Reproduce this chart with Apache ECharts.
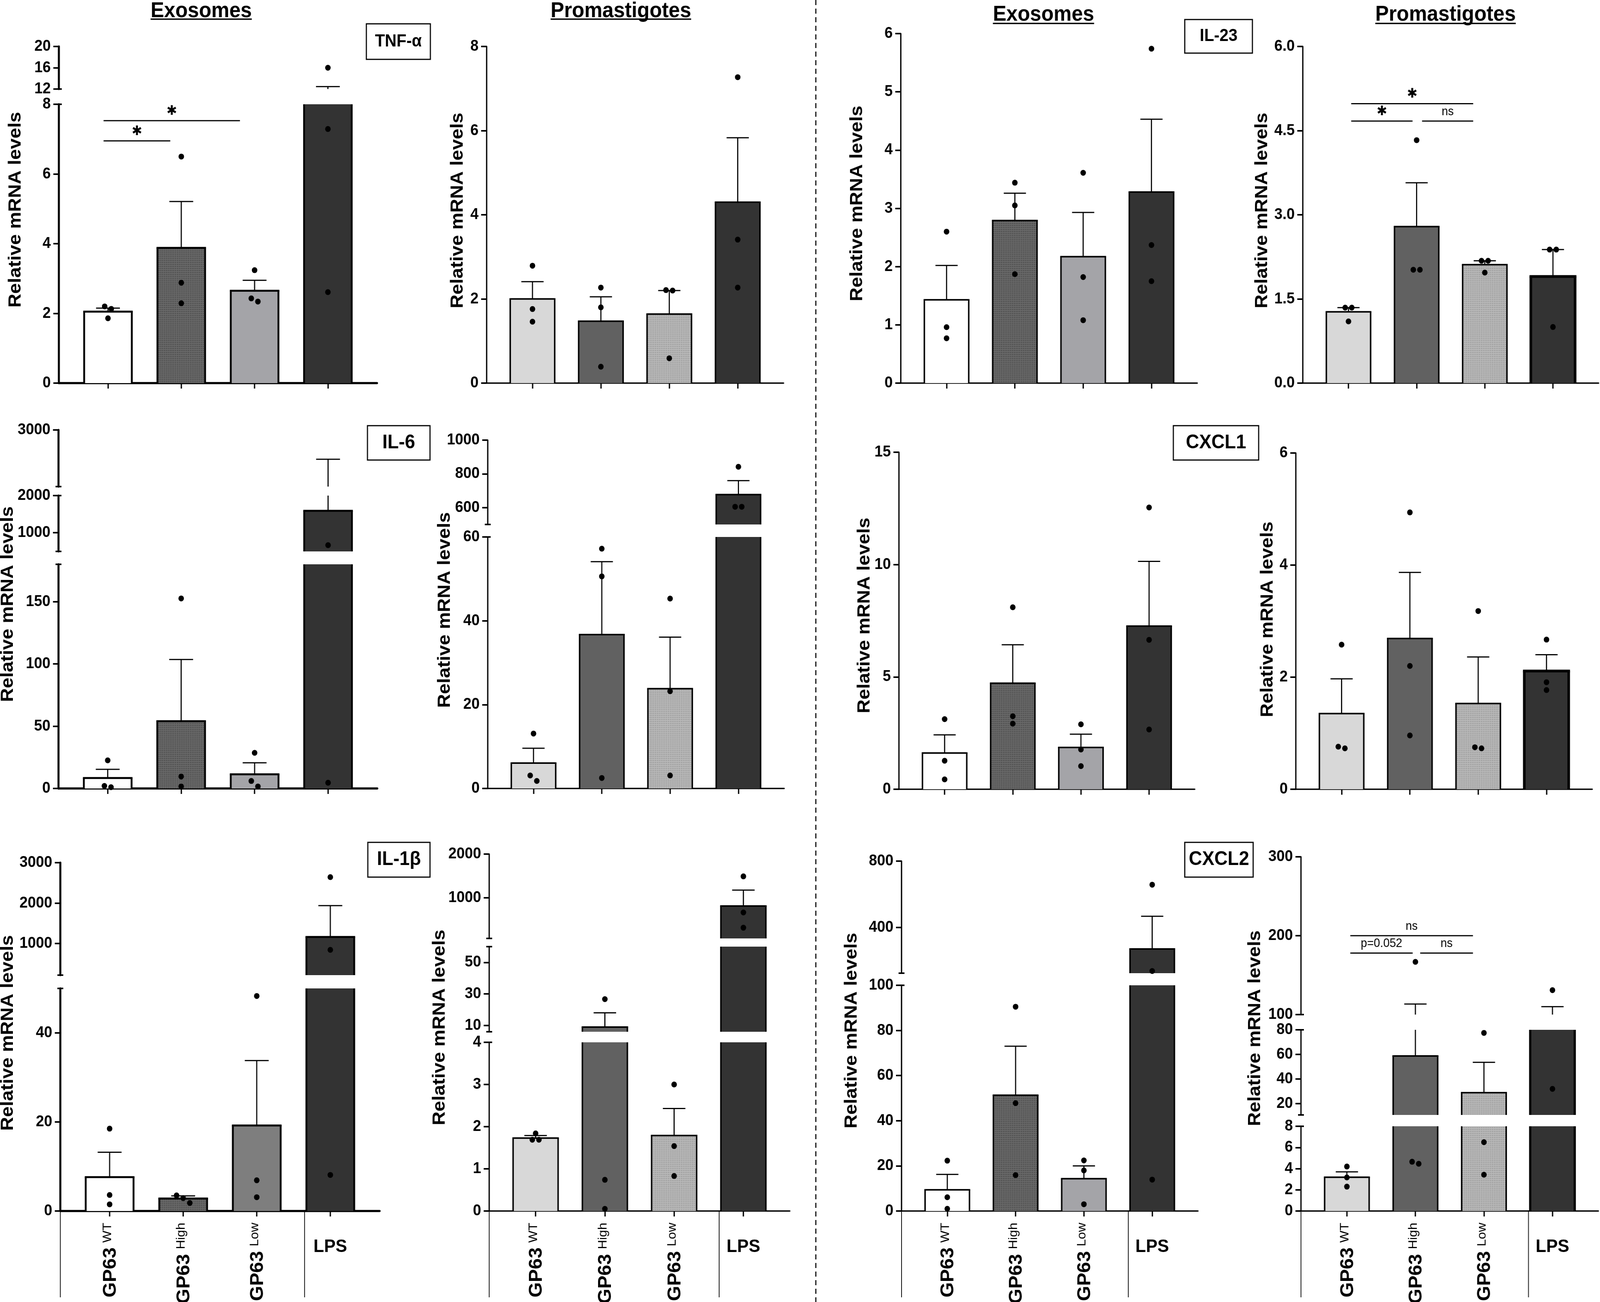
<!DOCTYPE html>
<html><head><meta charset="utf-8">
<script src="https://cdn.jsdelivr.net/npm/echarts@6/dist/echarts.min.js"></script>
<style>html,body{margin:0;padding:0;background:#fff;overflow:hidden;width:100%;height:100%}
#wrap{position:absolute;left:0;top:0;overflow:hidden;width:4350px;height:3334px}
#c{width:4350px;height:3334px;transform-origin:0 0}</style>
</head><body><div id="wrap"><div id="c"></div></div>
<script>
// ---------------- DATA ----------------
const categories = ['GP63 WT', 'GP63 High', 'GP63 Low', 'LPS'];

// TNF-α
const tnfExoMean = [2.05, 3.88, 2.65, 8.63];
const tnfExoSemTop = [2.15, 5.21, 2.95, 12.45];
const tnfExoPoints = [[2.2, 2.13, 1.86], [6.5, 2.88, 2.29], [3.24, 2.43, 2.34], [16, 7.29, 2.61]];
const tnfProMean = [2.0, 1.47, 1.64, 4.30];
const tnfProSemTop = [2.41, 2.05, 2.2, 5.83];
const tnfProPoints = [[2.79, 1.76, 1.46], [2.27, 1.8, 0.39], [2.21, 2.2, 0.59], [7.27, 3.41, 2.27]];
// IL-23
const il23ExoMean = [1.43, 2.79, 2.17, 3.28];
const il23ExoSemTop = [2.02, 3.26, 2.93, 4.53];
const il23ExoPoints = [[2.6, 0.96, 0.77], [3.44, 3.05, 1.87], [3.61, 1.82, 1.08], [5.74, 2.37, 1.75]];
const il23ProMean = [1.27, 2.79, 2.11, 1.90];
const il23ProSemTop = [1.345, 3.57, 2.18, 2.38];
const il23ProPoints = [[1.345, 1.345, 1.10], [4.33, 2.02, 2.02], [2.18, 2.18, 1.97], [2.38, 2.38, 1.00]];
// IL-6
const il6ExoMean = [8.4, 54, 11.4, 1588];
const il6ExoSemTop = [15.4, 103.6, 20.6, 2483];
const il6ExoPoints = [[22.6, 2, 1], [152.6, 9.6, 1.6], [28.6, 6, 1.6], [659, 4.6]];
const il6ProMean = [6.06, 36.7, 23.8, 677];
const il6ProSemTop = [9.6, 54.1, 36.1, 760];
const il6ProPoints = [[13.1, 3.1, 1.8], [57.2, 50.6, 2.5], [45.3, 23.2, 3.1], [842, 605, 605]];
// CXCL1
const cxcl1ExoMean = [1.61, 4.72, 1.86, 7.26];
const cxcl1ExoSemTop = [2.42, 6.43, 2.45, 10.14];
const cxcl1ExoPoints = [[3.12, 1.27, 0.44], [8.1, 3.25, 2.92], [2.89, 1.77, 1.03], [12.54, 6.65, 2.66]];
const cxcl1ProMean = [1.35, 2.69, 1.53, 2.11];
const cxcl1ProSemTop = [1.97, 3.87, 2.36, 2.40];
const cxcl1ProPoints = [[2.58, 0.76, 0.73], [4.94, 2.2, 0.96], [3.18, 0.75, 0.73], [2.67, 1.91, 1.77]];
// IL-1β
const il1bExoMean = [7.6, 2.8, 19.2, 1164];
const il1bExoSemTop = [13.2, 3.4, 33.8, 1937];
const il1bExoPoints = [[18.5, 3.6, 1.5], [3.5, 2.9, 1.8], [48.3, 6.9, 3.1], [2643, 845, 8.1]];
const il1bProMean = [1.73, 9.0, 1.79, 811];
const il1bProSemTop = [1.79, 18, 2.43, 1175];
const il1bProPoints = [[1.84, 1.69, 1.69], [26.7, 0.74, 0.05], [3.0, 1.54, 0.83], [1490, 664, 315]];
// CXCL2
const cxcl2ExoMean = [9.4, 51.3, 14.3, 271];
const cxcl2ExoSemTop = [16.2, 73, 20, 468];
const cxcl2ExoPoints = [[22.3, 6.1, 1], [90.5, 47.8, 15.9], [22.4, 18, 3], [658, 138, 13.9]];
const cxcl2ProMean = [3.19, 58.7, 28.9, 90];
const cxcl2ProSemTop = [3.7, 113.4, 53.6, 110];
const cxcl2ProPoints = [[4.2, 3.17, 2.3], [166.8, 4.65, 4.46], [77.5, 6.5, 3.43], [131, 32]];

// axis segments (value ranges of broken axes) and tick labels
const tnfExoRanges = [[0, 8], [12, 20]];       const tnfExoTicks = [[0, 2, 4, 6, 8], [12, 16, 20]];
const tnfProRanges = [[0, 8]];                 const tnfProTicks = [[0, 2, 4, 6, 8]];
const il23ExoRanges = [[0, 6]];                const il23ExoTicks = [[0, 1, 2, 3, 4, 5, 6]];
const il23ProRanges = [[0, 6]];                const il23ProTicks = [[0, 1.5, 3, 4.5, 6]];
const il6ExoRanges = [[0, 180], [490, 2000], [2000, 3000]]; const il6ExoTicks = [[0, 50, 100, 150], [1000, 2000], [3000]];
const il6ProRanges = [[0, 60], [500, 1000]];   const il6ProTicks = [[0, 20, 40, 60], [600, 800, 1000]];
const cxcl1ExoRanges = [[0, 15]];              const cxcl1ExoTicks = [[0, 5, 10, 15]];
const cxcl1ProRanges = [[0, 6]];               const cxcl1ProTicks = [[0, 2, 4, 6]];
const il1bExoRanges = [[0, 50], [220, 3000]];  const il1bExoTicks = [[0, 20, 40], [1000, 2000, 3000]];
const il1bProRanges = [[0, 4], [6, 60], [70, 2000]]; const il1bProTicks = [[0, 1, 2, 3, 4], [10, 30, 50], [1000, 2000]];
const cxcl2ExoRanges = [[0, 100], [125, 800]]; const cxcl2ExoTicks = [[0, 20, 40, 60, 80, 100], [400, 800]];
const cxcl2ProRanges = [[0, 8], [10.8, 80], [100, 300]]; const cxcl2ProTicks = [[0, 2, 4, 6, 8], [20, 40, 60, 80], [100, 200, 300]];

// significance annotations
const tnfExoSig = [{seg: 0, x1: 0.94, x2: 1.85, y: 6.95, text: '✱'}, {seg: 0, x1: 0.94, x2: 2.80, y: 7.53, text: '✱'}];
const il23ProSig = [{seg: 0, x1: 1.04, x2: 2.83, y: 4.98, text: '✱'}, {seg: 0, x1: 1.04, x2: 1.94, y: 4.67, text: '✱'}, {seg: 0, x1: 2.08, x2: 2.83, y: 4.67, text: 'ns'}];
const cxcl2ProSig = [{seg: 2, x1: 1.05, x2: 2.84, y: 200, text: 'ns'}, {seg: 2, x1: 1.05, x2: 1.96, y: 178, text: 'p=0.052'}, {seg: 2, x1: 2.07, x2: 2.84, y: 178, text: 'ns'}];

// ---------------- STYLE / LAYOUT ----------------
const FONT = '"Liberation Sans", Arial, sans-serif';
const FONT_N = '"Liberation Sans Narrow", "Liberation Sans", Arial, sans-serif';
const X_MIN = 0.33, X_MAX = 4.67, BAR_W = 0.65;
const mctx = document.createElement('canvas').getContext('2d');
function tw(text, font) { mctx.font = font; return mctx.measureText(text).width; }
function dotPattern(base, dot, pitch, r) {
  const c = document.createElement('canvas');
  c.width = pitch; c.height = pitch;
  const g = c.getContext('2d');
  g.fillStyle = base; g.fillRect(0, 0, pitch, pitch);
  g.fillStyle = dot; g.beginPath(); g.arc(pitch / 2, pitch / 2, r, 0, Math.PI * 2); g.fill();
  return {image: c, repeat: 'repeat'};
}
const exoHigh = dotPattern('#6a6a6a', '#3e3e3e', 5, 1.3);
const proLow = dotPattern('#b9b9b9', '#8e8e8e', 5, 1.3);
const exoFills = ['#ffffff', exoHigh, '#a4a4a8', '#333333'];
const exoFills2 = ['#ffffff', exoHigh, '#7e7e7e', '#333333'];
const proFills = ['#d8d8d8', '#616161', proLow, '#333333'];

const panels = [
  {mean: tnfExoMean, top: tnfExoSemTop, pts: tnfExoPoints, ranges: tnfExoRanges, ticks: tnfExoTicks, sig: tnfExoSig, fills: exoFills,
   ax: 160, sp: 199.3, segY: [[981, 267], [228, 119]], row: 0, col: 0, title: [42, 537]},
  {mean: tnfProMean, top: tnfProSemTop, pts: tnfProPoints, ranges: tnfProRanges, ticks: tnfProTicks, fills: proFills,
   ax: 1323, sp: 186, segY: [[981, 119]], row: 0, col: 1, title: [1244, 539]},
  {mean: il23ExoMean, top: il23ExoSemTop, pts: il23ExoPoints, ranges: il23ExoRanges, ticks: il23ExoTicks, fills: exoFills,
   ax: 2449, sp: 185.7, segY: [[981, 86]], row: 0, col: 2, title: [2330, 521]},
  {mean: il23ProMean, top: il23ProSemTop, pts: il23ProPoints, ranges: il23ProRanges, ticks: il23ProTicks, sig: il23ProSig, fills: proFills,
   ax: 3542, sp: 185.3, segY: [[981, 119]], row: 0, col: 3, title: [3431, 539], fmt: v => v.toFixed(1), lpsBorder: 7},
  {mean: il6ExoMean, top: il6ExoSemTop, pts: il6ExoPoints, ranges: il6ExoRanges, ticks: il6ExoTicks, fills: exoFills,
   ax: 159, sp: 199.7, segY: [[2019, 1445], [1412, 1269], [1246, 1101]], row: 1, col: 0, title: [21, 1547]},
  {mean: il6ProMean, top: il6ProSemTop, pts: il6ProPoints, ranges: il6ProRanges, ticks: il6ProTicks, fills: proFills,
   ax: 1326, sp: 185.7, segY: [[2019, 1375], [1343, 1127]], row: 1, col: 1, title: [1209, 1562]},
  {mean: cxcl1ExoMean, top: cxcl1ExoSemTop, pts: cxcl1ExoPoints, ranges: cxcl1ExoRanges, ticks: cxcl1ExoTicks, fills: exoFills,
   ax: 2444, sp: 185.3, segY: [[2021, 1158]], row: 1, col: 2, title: [2350, 1576]},
  {mean: cxcl1ProMean, top: cxcl1ProSemTop, pts: cxcl1ProPoints, ranges: cxcl1ProRanges, ticks: cxcl1ProTicks, fills: proFills,
   ax: 3523, sp: 185.7, segY: [[2021, 1160]], row: 1, col: 3, title: [3446, 1586], lpsBorder: 7},
  {mean: il1bExoMean, top: il1bExoSemTop, pts: il1bExoPoints, ranges: il1bExoRanges, ticks: il1bExoTicks, fills: exoFills2,
   ax: 164, sp: 200, segY: [[3101, 2531], [2497, 2209]], row: 2, col: 0, title: [21, 2645]},
  {mean: il1bProMean, top: il1bProSemTop, pts: il1bProPoints, ranges: il1bProRanges, ticks: il1bProTicks, fills: proFills,
   ax: 1330, sp: 188.3, segY: [[3101, 2669], [2642, 2424], [2403, 2187]], row: 2, col: 1, title: [1195, 2631]},
  {mean: cxcl2ExoMean, top: cxcl2ExoSemTop, pts: cxcl2ExoPoints, ranges: cxcl2ExoRanges, ticks: cxcl2ExoTicks, fills: exoFills,
   ax: 2451, sp: 185.7, segY: [[3101, 2523], [2492, 2205]], row: 2, col: 2, title: [2315, 2639]},
  {mean: cxcl2ProMean, top: cxcl2ProSemTop, pts: cxcl2ProPoints, ranges: cxcl2ProRanges, ticks: cxcl2ProTicks, sig: cxcl2ProSig, fills: proFills,
   ax: 3537, sp: 186.3, segY: [[3101, 2884], [2855, 2637], [2598, 2194]], row: 2, col: 3, title: [3412, 2633], lpsBorder: 6}
];

function makeRender(p, si) {
  const lo = p.ranges[si][0], hi = p.ranges[si][1];
  const nSeg = p.ranges.length;
  return function (params, api) {
    const i = params.dataIndex;
    const bl = (i === 3 && p.lpsBorder) ? p.lpsBorder : (p.col === 0 ? 5 : 4);
    const x = api.value(0), m = api.value(1);
    const bw = api.size([BAR_W, 0])[0];
    const P = v => api.coord([x, v]);
    const cx = P(lo)[0];
    const L = cx - bw / 2, R = cx + bw / 2;
    const ch = [];
    const ln = (x1, y1, x2, y2, w) => ({type: 'line', shape: {x1, y1, x2, y2}, style: {stroke: '#000', lineWidth: w}});
    if (m > lo) {
      const t = Math.min(m, hi);
      const yT = P(t)[1], yB = P(lo)[1];
      ch.push({type: 'rect', shape: {x: L, y: yT, width: bw, height: yB - yT}, style: {fill: p.fills[i]}});
      ch.push(ln(L, yB, L, yT, bl));
      ch.push(ln(R, yB, R, yT, bl));
      if (m <= hi) ch.push(ln(L - bl / 2, yT, R + bl / 2, yT, bl));
    }
    const e = p.top[i];
    const a = Math.max(m, lo), b = Math.min(e, hi);
    if (b > a) ch.push(ln(cx, P(a)[1], cx, P(b)[1], 3));
    if (e >= lo && e <= hi) { const ye = P(e)[1]; ch.push(ln(cx - bw / 4, ye, cx + bw / 4, ye, 3)); }
    // individual points
    const ys = p.pts[i].filter(v => v >= lo && v <= hi).map(v => P(v)[1]).sort((u, w) => u - w);
    const clusters = [];
    ys.forEach(y => {
      const c = clusters[clusters.length - 1];
      if (c && y - c[c.length - 1] < 15) c.push(y); else clusters.push([y]);
    });
    clusters.forEach(c => c.forEach((y, k) => {
      ch.push({type: 'circle', shape: {cx: cx + (k - (c.length - 1) / 2) * 18, cy: y, r: 7.5}, style: {fill: '#000'}});
    }));
    if (i === 0) {
      const axX = api.coord([X_MIN, lo])[0];
      if (si > 0) { const y = api.coord([X_MIN, lo])[1]; ch.push(ln(axX - 8, y, axX + 8, y, 4)); }
      if (si < nSeg - 1) { const y = api.coord([X_MIN, hi])[1]; ch.push(ln(axX - 8, y, axX + 8, y, 4)); }
      (p.sig || []).filter(s => s.seg === si).forEach(s => {
        const p1 = api.coord([s.x1, s.y]), p2 = api.coord([s.x2, s.y]);
        ch.push(ln(p1[0], p1[1], p2[0], p2[1], 3));
        const star = s.text === '✱';
        ch.push({type: 'text', x: (p1[0] + p2[0]) / 2, y: star ? p1[1] - 24 : p1[1] - 8,
          style: {text: s.text, fill: '#000', fontSize: star ? 34 : 31, fontFamily: star ? '"DejaVu Sans", sans-serif' : FONT_N,
            align: 'center', verticalAlign: star ? 'middle' : 'bottom'}});
      });
      if (p.row === 2 && si === 0) {
        const y0 = api.coord([X_MIN, 0])[1];
        const sx = api.coord([3.65, 0])[0];
        ch.push(ln(axX, y0, axX, 3322, 2));
        ch.push(ln(sx, y0, sx, 3322, 2));
      }
    }
    if (p.row === 2 && si === 0) {
      const y0 = P(0)[1];
      const parts = categories[i].split(' ');
      if (parts.length === 2) {
        const ws = tw(parts[1], '33px ' + FONT);
        ch.push({type: 'text', x: cx - 5, y: y0 + 30, rotation: Math.PI / 2,
          style: {text: parts[1], fontSize: 33, fontFamily: FONT, fill: '#000', align: 'right', verticalAlign: 'middle'}});
        ch.push({type: 'text', x: cx + 3, y: y0 + 30 + ws + 12, rotation: Math.PI / 2,
          style: {text: parts[0], fontSize: 50, fontWeight: 'bold', fontFamily: FONT, fill: '#000', align: 'right', verticalAlign: 'middle'}});
      } else {
        ch.push({type: 'text', x: cx, y: 3193,
          style: {text: parts[0], fontSize: 47, fontWeight: 'bold', fontFamily: FONT, fill: '#000', align: 'center', verticalAlign: 'middle'}});
      }
    }
    return {type: 'group', children: ch};
  };
}

const grids = [], xAxes = [], yAxes = [], series = [];
panels.forEach(p => {
  const axW = p.col === 0 ? 5.5 : 3.5;
  p.ranges.forEach((r, si) => {
    const g = grids.length;
    const [yb, yt] = p.segY[si];
    grids.push({left: p.ax, top: yt, width: (X_MAX - X_MIN) * p.sp, height: yb - yt, containLabel: false});
    xAxes.push({type: 'value', gridIndex: g, min: X_MIN, max: X_MAX, show: si === 0,
      axisLine: {show: true, onZero: false, lineStyle: {color: '#000', width: axW}},
      axisTick: {show: true, customValues: [1, 2, 3, 4], length: 14, lineStyle: {color: '#000', width: 3.5}},
      axisLabel: {show: false}, splitLine: {show: false}});
    yAxes.push({type: 'value', gridIndex: g, min: r[0], max: r[1],
      axisLine: {show: true, onZero: false, lineStyle: {color: '#000', width: p.col === 0 ? 5.5 : 3.5}},
      axisTick: {show: true, customValues: p.ticks[si], length: 15, lineStyle: {color: '#000', width: 4}},
      axisLabel: {show: true, customValues: p.ticks[si], margin: 22, color: '#000', fontSize: 40, fontWeight: 'bold', fontFamily: FONT,
        formatter: p.fmt || (v => String(v))},
      splitLine: {show: false}});
    series.push({type: 'custom', xAxisIndex: g, yAxisIndex: g, clip: false, silent: true,
      data: p.mean.map((m, i) => [i + 1, m]), renderItem: makeRender(p, si)});
  });
});

// ---------------- GRAPHIC (titles, boxes, separators) ----------------
const graphic = [];
graphic.push({type: 'line', shape: {x1: 2218, y1: 0, x2: 2218, y2: 3334}, style: {stroke: '#000', lineWidth: 3, lineDash: [13, 9]}});
const colTitles = [['Exosomes', 547, 29, 49], ['Promastigotes', 1688, 29, 49], ['Exosomes', 2837, 38, 60], ['Promastigotes', 3930, 38, 60]];
colTitles.forEach(([t, x, y, u]) => {
  const w = tw(t, 'bold 55px ' + FONT);
  graphic.push({type: 'text', x: x, y: y, style: {text: t, fontSize: 55, fontWeight: 'bold', fontFamily: FONT, fill: '#000', align: 'center', verticalAlign: 'middle'}});
  graphic.push({type: 'line', shape: {x1: x - w / 2, y1: u, x2: x + w / 2, y2: u}, style: {stroke: '#000', lineWidth: 3.5}});
});
const boxes = [['TNF-α', 996, 61, 174, 91, FONT], ['IL-23', 3221, 50, 184, 86, FONT], ['IL-6', 999, 1090, 170, 88, FONT_N],
  ['CXCL1', 3190, 1090, 232, 88, FONT_N], ['IL-1β', 1000, 2157, 169, 89, FONT_N], ['CXCL2', 3221, 2157, 186, 89, FONT_N]];
boxes.forEach(([t, x, y, w, h, f]) => {
  graphic.push({type: 'rect', shape: {x, y, width: w, height: h}, style: {fill: '#fff', stroke: '#000', lineWidth: 3}});
  graphic.push({type: 'text', x: x + w / 2, y: y + h / 2, style: {text: t, fontSize: f === FONT ? 44 : 50, fontWeight: 'bold', fontFamily: f, fill: '#000', align: 'center', verticalAlign: 'middle'}});
});
panels.forEach(p => {
  graphic.push({type: 'text', x: p.title[0], y: p.title[1], rotation: Math.PI / 2,
    style: {text: 'Relative mRNA levels', fontSize: 49, fontWeight: 'bold', fontFamily: FONT, fill: '#000', align: 'center', verticalAlign: 'middle'}});
});

// fit the 4350x3334 drawing into the actual viewport (the window may be narrower than requested)
const wrap = document.getElementById('wrap');
const el = document.getElementById('c');
const vw = document.documentElement.clientWidth || window.innerWidth || 4350;
const vh = document.documentElement.clientHeight || window.innerHeight || 3334;
const Sx = vw / 4350, Sy = vh / 3334;
if (Math.abs(Sx - 1) > 0.002 || Math.abs(Sy - 1) > 0.002) {
  el.style.transform = 'scale(' + Sx + ',' + Sy + ')';
  wrap.style.width = vw + 'px';
  wrap.style.height = vh + 'px';
}
const chart = echarts.init(el, null, {renderer: 'canvas'});
chart.setOption({
  animation: false, backgroundColor: '#fff',
  grid: grids, xAxis: xAxes, yAxis: yAxes, series: series, graphic: graphic
});
</script></body></html>
